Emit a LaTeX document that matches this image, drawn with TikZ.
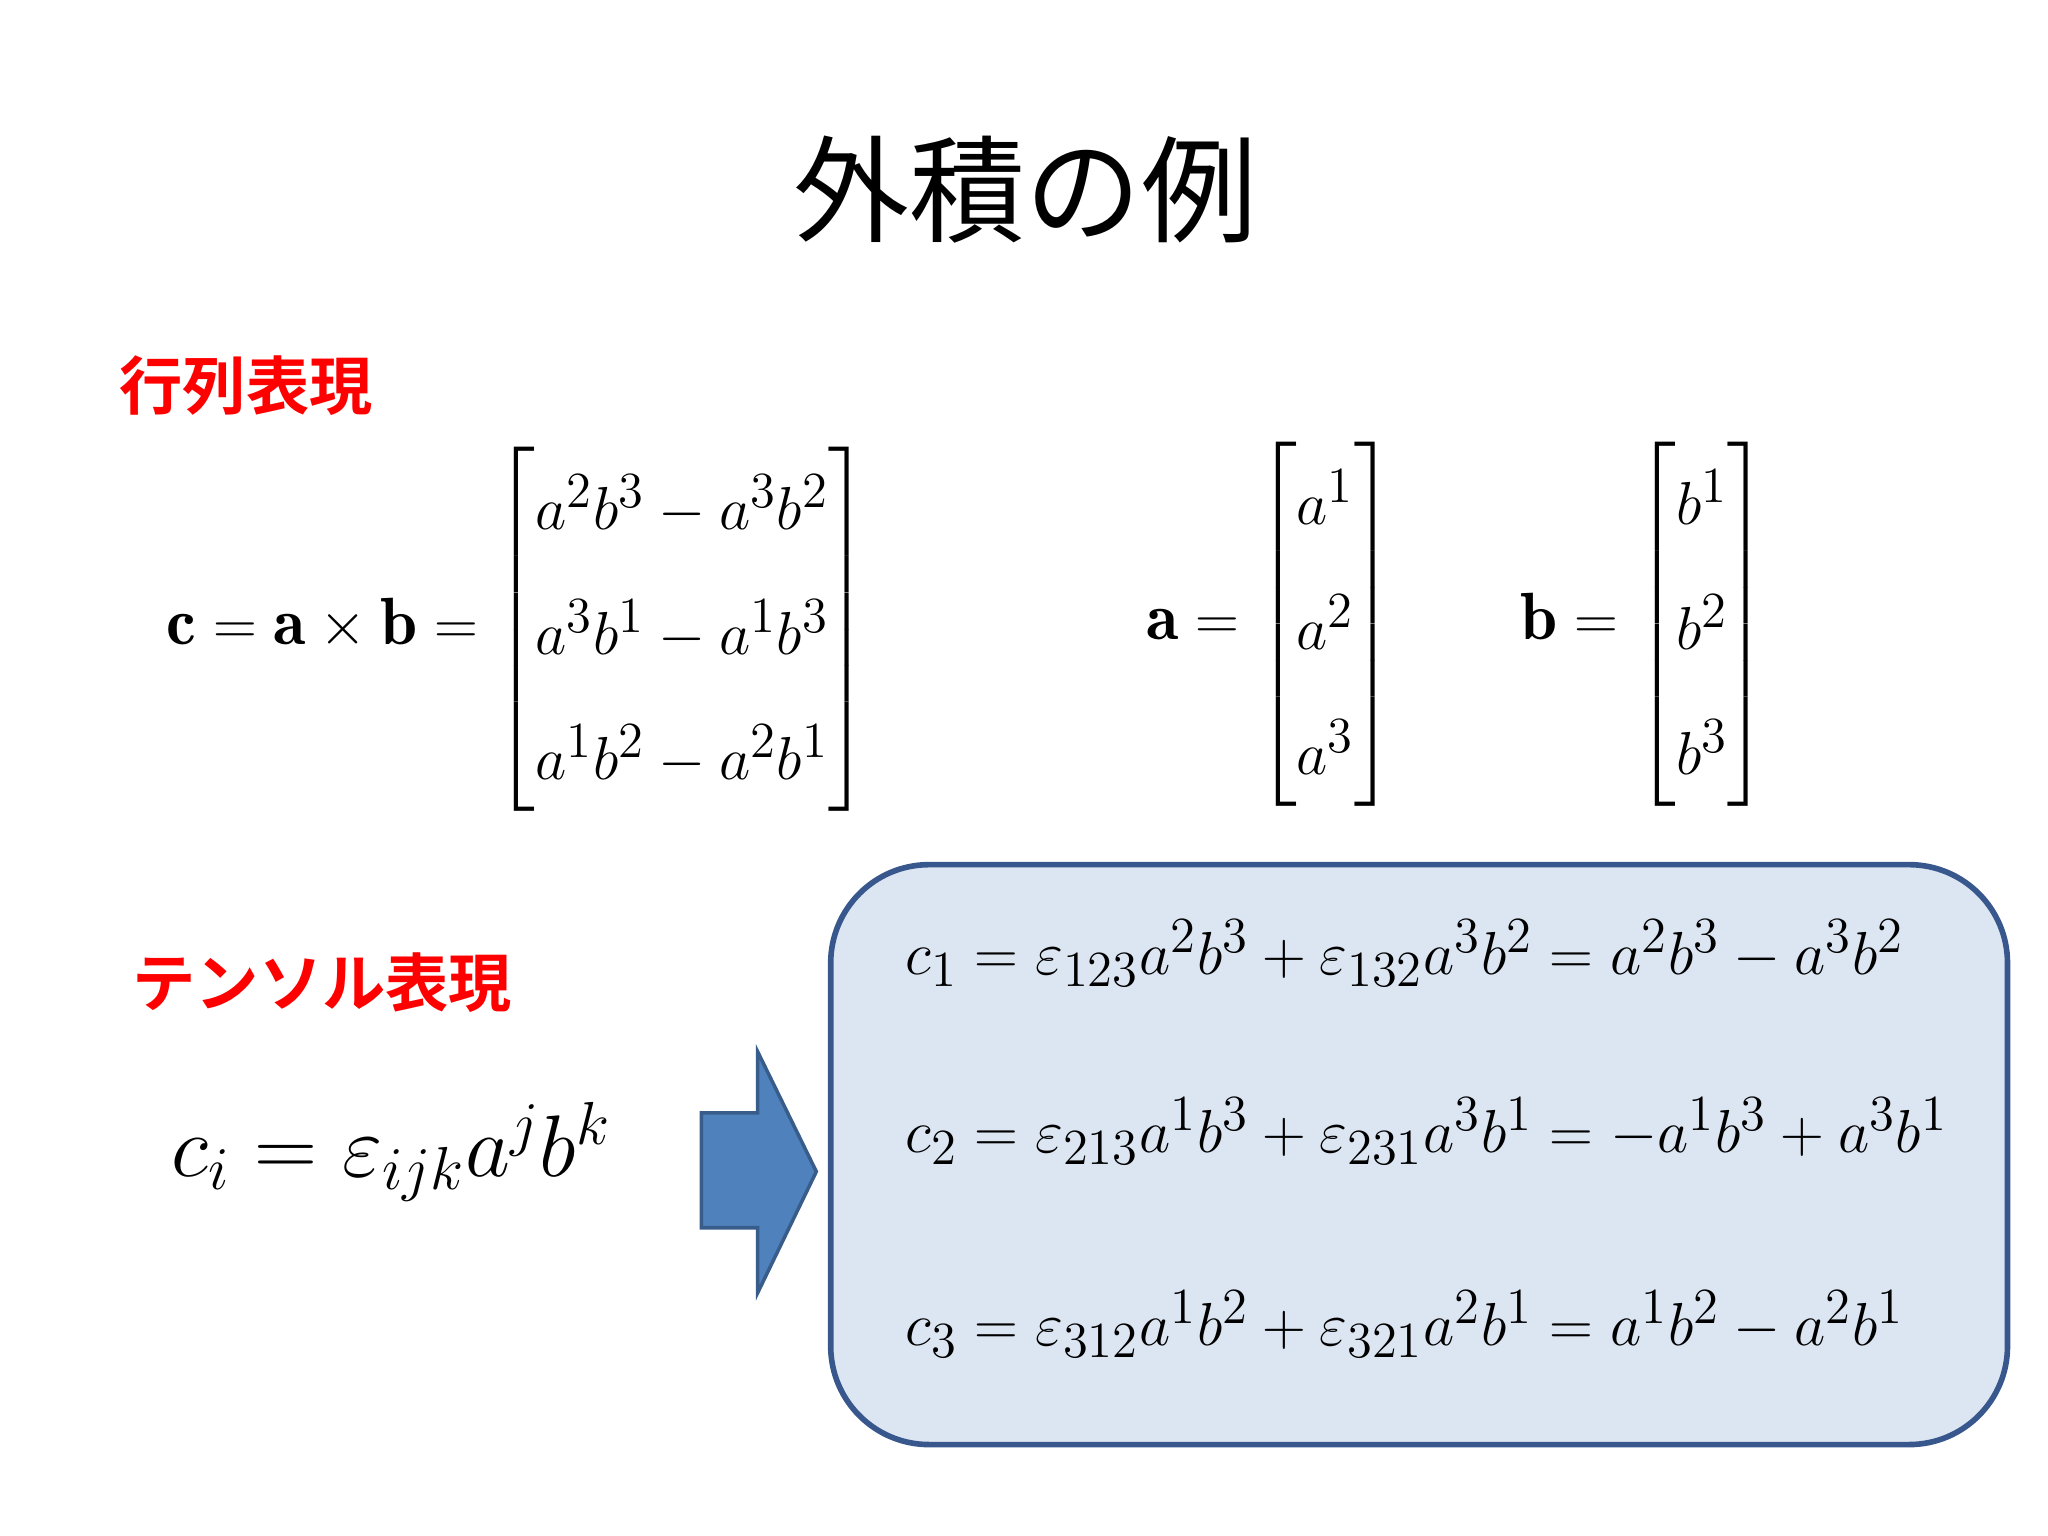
\documentclass[tikz,border=0pt]{standalone}
\usepackage{amsmath}
\usepackage{fontspec}
\newfontfamily\jp{Noto Sans CJK JP}[BoldFont={Noto Sans CJK JP Bold}]
\definecolor{boxfill}{RGB}{220,229,242}
\definecolor{boxline}{RGB}{56,87,140}
\definecolor{arrowfill}{RGB}{79,129,189}
\definecolor{arrowline}{RGB}{56,93,138}
\tikzset{
  redlab/.style={anchor=west,text=red,font=\jp\bfseries\fontsize{18}{20}\selectfont},
  eq/.style={anchor=west,font=\fontsize{19}{23}\selectfont},
}
\begin{document}
\begin{tikzpicture}[x=0.013061cm,y=-0.013061cm]
\useasboundingbox (0,0) rectangle (1568,1176);
\node[font=\jp\fontsize{33}{36}\selectfont] (title) at (785,145) {外積の例};
\node[redlab] (l1) at (82,295) {行列表現};
\node[redlab] (l2) at (92,752) {テンソル表現};
\node[eq] (m1) at (118,482) {$\mathbf{c}=\mathbf{a}\times\mathbf{b}=\renewcommand{\arraystretch}{1.55}\begin{bmatrix} a^2b^3-a^3b^2\\ a^3b^1-a^1b^3\\ a^1b^2-a^2b^1\end{bmatrix}$};
\node[eq] (m2) at (868,478) {$\mathbf{a}=\renewcommand{\arraystretch}{1.55}\begin{bmatrix} a^1\\ a^2\\ a^3\end{bmatrix}$};
\node[eq] (m3) at (1155,478) {$\mathbf{b}=\renewcommand{\arraystretch}{1.55}\begin{bmatrix} b^1\\ b^2\\ b^3\end{bmatrix}$};
\node[eq,font=\fontsize{26}{30}\selectfont] (t) at (122,882) {$c_i=\varepsilon_{ijk}a^jb^k$};
\draw[fill=arrowfill,draw=arrowline,line width=1pt] (537,852) -- (580,852) -- (580,805) -- (625,897) -- (580,990) -- (580,940) -- (537,940) -- cycle;
\draw[fill=boxfill,draw=boxline,line width=1.6pt,rounded corners=28pt] (636,662) rectangle (1537,1106);
\node[eq] (e1) at (684,730) {$c_1=\varepsilon_{123}a^2b^3+\varepsilon_{132}a^3b^2=a^2b^3-a^3b^2$};
\node[eq] (e2) at (684,866) {$c_2=\varepsilon_{213}a^1b^3+\varepsilon_{231}a^3b^1=-a^1b^3+a^3b^1$};
\node[eq] (e3) at (684,1014) {$c_3=\varepsilon_{312}a^1b^2+\varepsilon_{321}a^2b^1=a^1b^2-a^2b^1$};
\end{tikzpicture}
\end{document}
